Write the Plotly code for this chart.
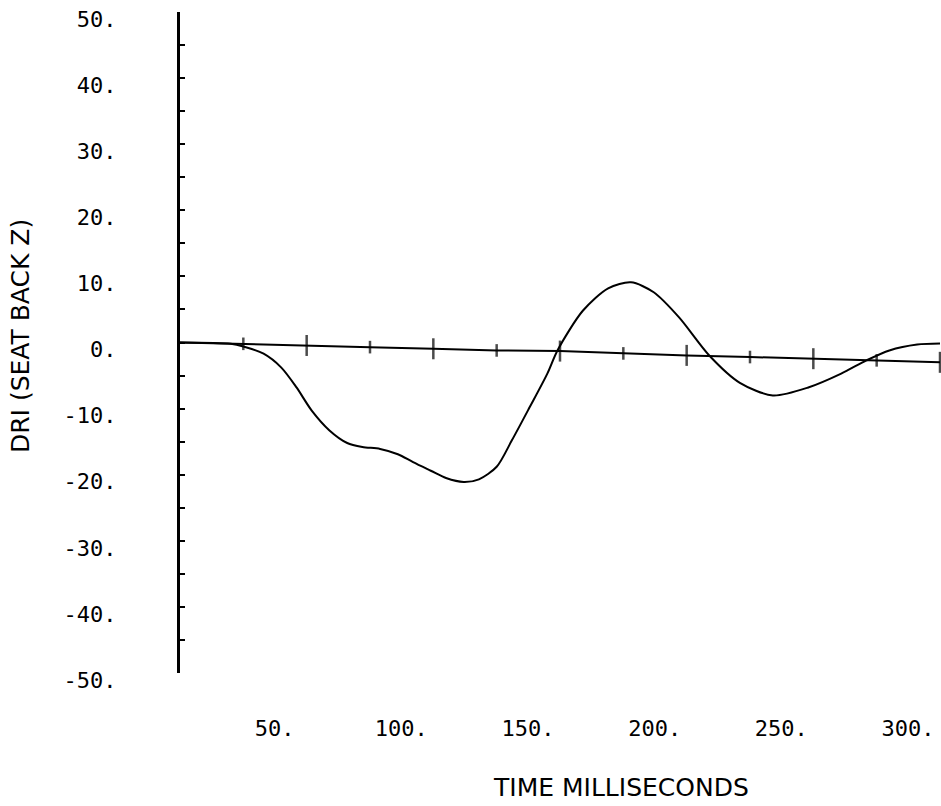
import plotly.graph_objects as go

# Curve data: DRI (seat back Z) vs time (ms)
time_ms = [0, 20, 25, 33, 40, 46, 52, 59, 66, 72, 79, 86, 92, 99, 105, 112, 118,
           125, 131, 138, 145, 149, 159, 169, 178, 187, 197, 209, 221, 234, 248,
           261, 271, 280, 291, 300]
dri = [0, -0.2, -0.6, -1.7, -3.8, -6.8, -10.3, -13.3, -15.2, -15.8, -16.1, -16.9,
       -18.1, -19.4, -20.5, -21.1, -20.7, -18.8, -14.8, -9.8, -4.7, -1.2, 4.8,
       8.2, 9.1, 7.6, 3.8, -2.0, -6.1, -8.0, -6.8, -4.7, -2.7, -1.2, -0.3, -0.15]

# Drawn time axis (zero line, slightly skewed in the scan) and its tick marks
axis_t = [0, 25, 50, 75, 100, 125, 150, 175, 200, 225, 250, 275, 300]
axis_y = [0, -0.2, -0.45, -0.7, -0.95, -1.2, -1.3, -1.65, -1.95, -2.2, -2.45, -2.7, -3.0]
axis_tick_size = [0, 9, 15, 9, 15, 9, 15, 9, 15, 9, 15, 9, 15]

x_tickvals = [50, 100, 150, 200, 250, 300]
x_ticktext = ["50.", "100.", "150.", "200.", "250.", "300."]
y_tickvals = [50, 40, 30, 20, 10, 0, -10, -20, -30, -40, -50]
y_ticktext = ["50.", "40.", "30.", "20.", "10.", "0.", "-10.", "-20.", "-30.", "-40.", "-50."]

fig = go.Figure()
fig.add_trace(go.Scatter(
    x=axis_t, y=axis_y, mode="lines+markers",
    line=dict(color="black", width=2),
    marker=dict(symbol="line-ns", size=axis_tick_size, color="black",
                line=dict(color="black", width=2.5)),
    cliponaxis=False, hoverinfo="skip", showlegend=False))
fig.add_trace(go.Scatter(
    x=time_ms, y=dri, mode="lines",
    line=dict(color="black", width=2, shape="spline", smoothing=0.8),
    cliponaxis=False, showlegend=False))

tick_font = dict(family="DejaVu Sans Mono", size=22, color="black")
title_font = dict(family="DejaVu Sans", size=25, color="black")

fig.update_layout(
    width=941, height=806,
    margin=dict(l=180, r=1, t=12, b=133, autoexpand=False),
    paper_bgcolor="white", plot_bgcolor="white",
    showlegend=False,
    xaxis=dict(range=[0, 300], showline=False, showgrid=False, zeroline=False,
               automargin=False, ticklabeloverflow="allow",
               ticks="", tickmode="array", tickvals=x_tickvals, ticktext=x_ticktext,
               tickfont=tick_font, ticklabelstandoff=40, ticklabelshift=-32),
    yaxis=dict(range=[-50, 50], showline=True, linecolor="black", linewidth=3,
               showgrid=False, zeroline=False, automargin=False,
               ticklabeloverflow="allow",
               tickmode="array", tickvals=y_tickvals, ticktext=y_ticktext,
               ticks="inside", ticklen=5, tickwidth=1.5, tickcolor="black",
               minor=dict(dtick=5, tick0=0, ticks="inside", ticklen=5,
                          tickwidth=1.5, tickcolor="black", showgrid=False),
               tickfont=tick_font, ticklabelstandoff=56, ticklabelshift=7),
    annotations=[
        dict(text="TIME MILLISECONDS", xref="paper", yref="paper",
             x=0.58, y=-0.1725, xanchor="center", yanchor="middle",
             showarrow=False, font=title_font),
        dict(text="DRI (SEAT BACK Z)", xref="paper", yref="paper",
             x=-0.209, y=0.51, xanchor="center", yanchor="middle",
             textangle=-90, showarrow=False, font=title_font),
    ],
)

fig.write_html("out.html", config={"displayModeBar": False},
               post_script="document.body.style.margin='0';")
